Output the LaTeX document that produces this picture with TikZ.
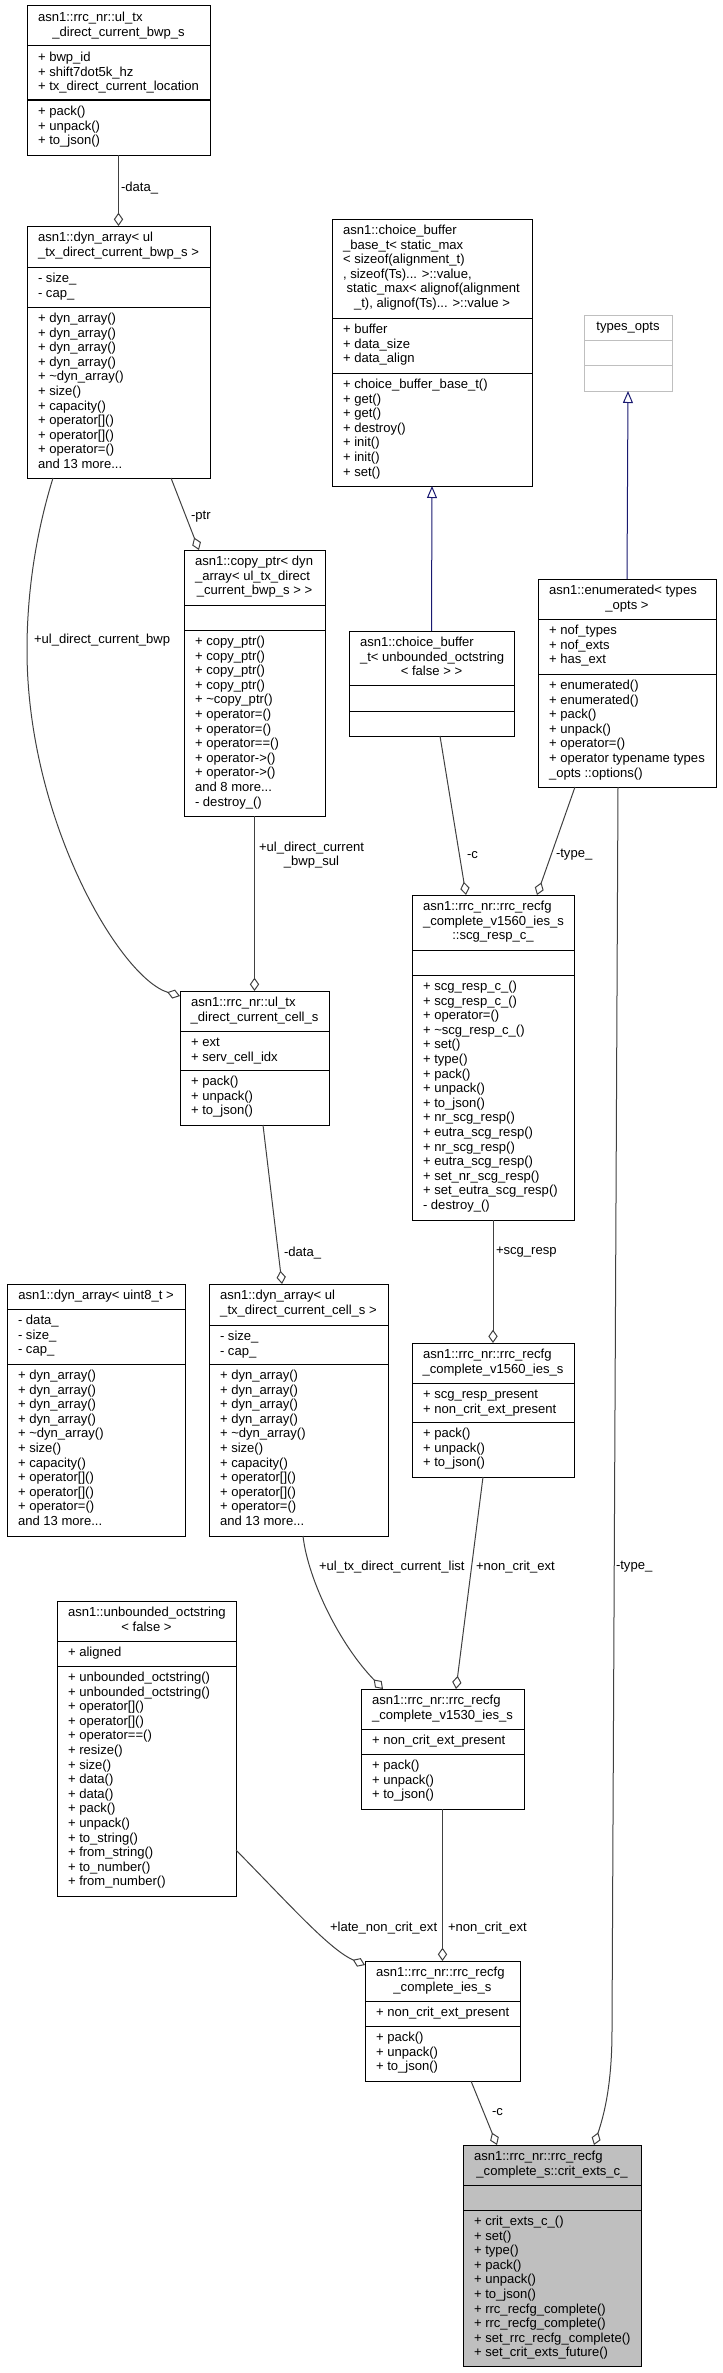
\documentclass[tikz,border=0pt]{standalone}
\usepackage{fontspec}
\setmainfont{Liberation Sans}
\usetikzlibrary{arrows.meta,calc}
\definecolor{edgegray}{HTML}{404040}
\definecolor{navy}{HTML}{191970}
\definecolor{boxgray}{HTML}{BFBFBF}
\newcommand{\clsL}[1]{\hbox{\rule{0pt}{8pt}#1}}
\newcommand{\clsC}[1]{\hbox to\hsize{\hss\rule{0pt}{8pt}#1\hss}}
\newcommand{\umlbox}[8]{%
  \node[cls,#8,minimum width={#4*0.75pt},minimum height={(#7-#3)*0.75pt},anchor=north west] (#1) at (#2,#3) {};
  \draw[sepl,#8] (#2,#5) -- ++(#4,0);
  \draw[sepl,#8] (#2,#6) -- ++(#4,0);
}
\newcommand{\umltxt}[5]{%
  \node[txt,anchor=north west] (#1) at ($(#2,#3)+(11,4.83)$) {\vbox{\lineskiplimit=-100pt\hsize=\dimexpr(#4pt-22pt)*3/4\relax #5}};
}
\begin{document}
\begin{tikzpicture}[x=0.75pt,y=-0.75pt,
  cls/.style={draw=black,line width=0.75pt,fill=white,inner sep=0pt,outer sep=0pt,rectangle},
  sepl/.style={draw=black,line width=0.75pt},
  gbox/.style={draw=boxgray},
  pbox/.style={fill=boxgray},
  txt/.style={inner sep=0pt,outer sep=0pt,font={\fontsize{9.8pt}{10.95pt}\selectfont}},
  lbl/.style={inner sep=0pt,outer sep=0pt,anchor=west,font={\fontsize{9.8pt}{10.95pt}\selectfont}},
  edge/.style={draw=edgegray,line width=0.75pt},
  aggr/.style={edge,-{Diamond[open,length=10pt,width=7pt]}},
  inh/.style={draw=navy,line width=0.75pt,-{Triangle[open,length=9pt,width=7.5pt]}}]
\useasboundingbox (0,0) rectangle (723,2373);

% A
\umlbox{A}{27}{6}{183}{46}{100}{155}{}
\umltxt{At}{27}{6}{183}{\clsL{asn1::rrc\_nr::ul\_tx}\clsC{\_direct\_current\_bwp\_s}}
\umltxt{Aa}{27}{46}{183}{\clsL{+ bwp\_id}\clsL{+ shift7dot5k\_hz}\clsL{+ tx\_direct\_current\_location}}
\umltxt{Am}{27}{100}{183}{\clsL{+ pack()}\clsL{+ unpack()}\clsL{+ to\_json()}}

% B
\umlbox{B}{27}{226}{183}{267}{307}{478}{}
\umltxt{Bt}{27}{226}{183}{\clsL{asn1::dyn\_array< ul}\clsC{\_tx\_direct\_current\_bwp\_s >}}
\umltxt{Ba}{27}{267}{183}{\clsL{- size\_}\clsL{- cap\_}}
\umltxt{Bm}{27}{307}{183}{\clsL{+ dyn\_array()}\clsL{+ dyn\_array()}\clsL{+ dyn\_array()}\clsL{+ dyn\_array()}\clsL{+ \textasciitilde dyn\_array()}\clsL{+ size()}\clsL{+ capacity()}\clsL{+ operator[]()}\clsL{+ operator[]()}\clsL{+ operator=()}\clsL{and 13 more...}}

% C
\umlbox{C}{184}{550}{141}{605}{630}{816}{}
\umltxt{Ct}{184}{550}{141}{\clsL{asn1::copy\_ptr< dyn}\clsL{\_array< ul\_tx\_direct}\clsC{\_current\_bwp\_s > >}}
\umltxt{Cm}{184}{630}{141}{\clsL{+ copy\_ptr()}\clsL{+ copy\_ptr()}\clsL{+ copy\_ptr()}\clsL{+ copy\_ptr()}\clsL{+ \textasciitilde copy\_ptr()}\clsL{+ operator=()}\clsL{+ operator=()}\clsL{+ operator==()}\clsL{+ operator->()}\clsL{+ operator->()}\clsL{and 8 more...}\clsL{- destroy\_()}}

% D
\umlbox{D}{180}{991}{149}{1031}{1070}{1125}{}
\umltxt{Dt}{180}{991}{149}{\clsL{asn1::rrc\_nr::ul\_tx}\clsC{\_direct\_current\_cell\_s}}
\umltxt{Da}{180}{1031}{149}{\clsL{+ ext}\clsL{+ serv\_cell\_idx}}
\umltxt{Dm}{180}{1070}{149}{\clsL{+ pack()}\clsL{+ unpack()}\clsL{+ to\_json()}}

% E
\umlbox{E}{332}{219}{200}{318}{373}{486}{}
\umltxt{Et}{332}{219}{200}{\clsL{asn1::choice\_buffer}\clsL{\_base\_t< static\_max}\clsL{< sizeof(alignment\_t)}\clsL{, sizeof(Ts)... >::value,}\clsL{\ static\_max< alignof(alignment}\clsC{\_t), alignof(Ts)... >::value >}}
\umltxt{Ea}{332}{318}{200}{\clsL{+ buffer}\clsL{+ data\_size}\clsL{+ data\_align}}
\umltxt{Em}{332}{373}{200}{\clsL{+ choice\_buffer\_base\_t()}\clsL{+ get()}\clsL{+ get()}\clsL{+ destroy()}\clsL{+ init()}\clsL{+ init()}\clsL{+ set()}}

% F
\umlbox{F}{584}{315}{88}{340}{365}{391}{gbox}
\umltxt{Ft}{584}{315}{88}{\clsC{types\_opts}}

% G
\umlbox{G}{349}{631}{165}{685}{711}{736}{}
\umltxt{Gt}{349}{631}{165}{\clsL{asn1::choice\_buffer}\clsL{\_t< unbounded\_octstring}\clsC{< false > >}}

% H
\umlbox{H}{538}{579}{178}{619}{674}{787}{}
\umltxt{Ht}{538}{579}{178}{\clsL{asn1::enumerated< types}\clsC{\_opts >}}
\umltxt{Ha}{538}{619}{178}{\clsL{+ nof\_types}\clsL{+ nof\_exts}\clsL{+ has\_ext}}
\umltxt{Hm}{538}{674}{178}{\clsL{+ enumerated()}\clsL{+ enumerated()}\clsL{+ pack()}\clsL{+ unpack()}\clsL{+ operator=()}\clsL{+ operator typename types}\clsL{\_opts ::options()}}

% I
\umlbox{I}{412}{895}{162}{950}{975}{1220}{}
\umltxt{It}{412}{895}{162}{\clsL{asn1::rrc\_nr::rrc\_recfg}\clsL{\_complete\_v1560\_ies\_s}\clsC{::scg\_resp\_c\_}}
\umltxt{Im}{412}{975}{162}{\clsL{+ scg\_resp\_c\_()}\clsL{+ scg\_resp\_c\_()}\clsL{+ operator=()}\clsL{+ \textasciitilde scg\_resp\_c\_()}\clsL{+ set()}\clsL{+ type()}\clsL{+ pack()}\clsL{+ unpack()}\clsL{+ to\_json()}\clsL{+ nr\_scg\_resp()}\clsL{+ eutra\_scg\_resp()}\clsL{+ nr\_scg\_resp()}\clsL{+ eutra\_scg\_resp()}\clsL{+ set\_nr\_scg\_resp()}\clsL{+ set\_eutra\_scg\_resp()}\clsL{- destroy\_()}}

% J
\umlbox{J}{412}{1343}{162}{1383}{1422}{1477}{}
\umltxt{Jt}{412}{1343}{162}{\clsL{asn1::rrc\_nr::rrc\_recfg}\clsC{\_complete\_v1560\_ies\_s}}
\umltxt{Ja}{412}{1383}{162}{\clsL{+ scg\_resp\_present}\clsL{+ non\_crit\_ext\_present}}
\umltxt{Jm}{412}{1422}{162}{\clsL{+ pack()}\clsL{+ unpack()}\clsL{+ to\_json()}}

% K
\umlbox{K}{7}{1284}{178}{1309}{1364}{1536}{}
\umltxt{Kt}{7}{1284}{178}{\clsC{asn1::dyn\_array< uint8\_t >}}
\umltxt{Ka}{7}{1309}{178}{\clsL{- data\_}\clsL{- size\_}\clsL{- cap\_}}
\umltxt{Km}{7}{1364}{178}{\clsL{+ dyn\_array()}\clsL{+ dyn\_array()}\clsL{+ dyn\_array()}\clsL{+ dyn\_array()}\clsL{+ \textasciitilde dyn\_array()}\clsL{+ size()}\clsL{+ capacity()}\clsL{+ operator[]()}\clsL{+ operator[]()}\clsL{+ operator=()}\clsL{and 13 more...}}

% L
\umlbox{L}{209}{1284}{179}{1325}{1364}{1536}{}
\umltxt{Lt}{209}{1284}{179}{\clsL{asn1::dyn\_array< ul}\clsC{\_tx\_direct\_current\_cell\_s >}}
\umltxt{La}{209}{1325}{179}{\clsL{- size\_}\clsL{- cap\_}}
\umltxt{Lm}{209}{1364}{179}{\clsL{+ dyn\_array()}\clsL{+ dyn\_array()}\clsL{+ dyn\_array()}\clsL{+ dyn\_array()}\clsL{+ \textasciitilde dyn\_array()}\clsL{+ size()}\clsL{+ capacity()}\clsL{+ operator[]()}\clsL{+ operator[]()}\clsL{+ operator=()}\clsL{and 13 more...}}

% M
\umlbox{M}{57}{1601}{179}{1641}{1666}{1896}{}
\umltxt{Mt}{57}{1601}{179}{\clsL{asn1::unbounded\_octstring}\clsC{< false >}}
\umltxt{Ma}{57}{1641}{179}{\clsL{+ aligned}}
\umltxt{Mm}{57}{1666}{179}{\clsL{+ unbounded\_octstring()}\clsL{+ unbounded\_octstring()}\clsL{+ operator[]()}\clsL{+ operator[]()}\clsL{+ operator==()}\clsL{+ resize()}\clsL{+ size()}\clsL{+ data()}\clsL{+ data()}\clsL{+ pack()}\clsL{+ unpack()}\clsL{+ to\_string()}\clsL{+ from\_string()}\clsL{+ to\_number()}\clsL{+ from\_number()}}

% N
\umlbox{N}{361}{1689}{163}{1729}{1754}{1809}{}
\umltxt{Nt}{361}{1689}{163}{\clsL{asn1::rrc\_nr::rrc\_recfg}\clsC{\_complete\_v1530\_ies\_s}}
\umltxt{Na}{361}{1729}{163}{\clsL{+ non\_crit\_ext\_present}}
\umltxt{Nm}{361}{1754}{163}{\clsL{+ pack()}\clsL{+ unpack()}\clsL{+ to\_json()}}

% O
\umlbox{O}{365}{1961}{155}{2001}{2026}{2081}{}
\umltxt{Ot}{365}{1961}{155}{\clsL{asn1::rrc\_nr::rrc\_recfg}\clsC{\_complete\_ies\_s}}
\umltxt{Oa}{365}{2001}{155}{\clsL{+ non\_crit\_ext\_present}}
\umltxt{Om}{365}{2026}{155}{\clsL{+ pack()}\clsL{+ unpack()}\clsL{+ to\_json()}}

% P
\umlbox{P}{463}{2145}{178}{2185}{2210}{2366}{pbox}
\umltxt{Pt}{463}{2145}{178}{\clsL{asn1::rrc\_nr::rrc\_recfg}\clsC{\_complete\_s::crit\_exts\_c\_}}
\umltxt{Pm}{463}{2210}{178}{\clsL{+ crit\_exts\_c\_()}\clsL{+ set()}\clsL{+ type()}\clsL{+ pack()}\clsL{+ unpack()}\clsL{+ to\_json()}\clsL{+ rrc\_recfg\_complete()}\clsL{+ rrc\_recfg\_complete()}\clsL{+ set\_rrc\_recfg\_complete()}\clsL{+ set\_crit\_exts\_future()}}

% edges
\draw[aggr] (A.south) -- (B.north);
\node[lbl] (l1) at (121,188) {-data\_};
\draw[aggr] ($(B.south west)+(144,0)$) -- ($(C.north west)+(15,0)$);
\node[lbl] (l2) at (191,517) {-ptr};
\draw[aggr] ($(B.south west)+(26,0)$) .. controls (40,520) and (27,580) .. (27,650) .. controls (27,820) and (120,978) .. ($(D.north west)+(0,5)$);
\node[lbl] (l3) at (34,640) {+ul\_direct\_current\_bwp};
\draw[aggr] (C.south) -- (D.north);
\node[lbl,align=center] (l4) at (259,855) {+ul\_direct\_current\\\_bwp\_sul};
\draw[aggr] ($(D.south west)+(83,0)$) -- ($(L.north west)+(73,0)$);
\node[lbl] (l5) at (284,1253) {-data\_};
\draw[inh] (G.north) -- (E.south);
\draw[inh] (H.north) -- (F.south);
\draw[aggr] ($(G.south west)+(91,0)$) -- ($(I.north west)+(54,0)$);
\node[lbl] (l6) at (467,855) {-c};
\draw[aggr] ($(H.south west)+(37,0)$) -- ($(I.north west)+(125,0)$);
\node[lbl] (l7) at (556,855) {-type\_};
\draw[aggr] ($(H.south west)+(80,0)$) -- (612,2030) .. controls (612,2085) and (604,2115) .. ($(P.north west)+(131,0)$);
\node[lbl] (l8) at (616,1567) {-type\_};
\draw[aggr] (I.south) -- (J.north);
\node[lbl] (l9) at (496,1252) {+scg\_resp};
\draw[aggr] ($(J.south west)+(71,0)$) -- ($(N.north west)+(95,0)$);
\node[lbl] (l10) at (476,1567) {+non\_crit\_ext};
\draw[aggr] ($(L.south west)+(94,0)$) .. controls (308,1580) and (340,1645) .. ($(N.north west)+(22,0)$);
\node[lbl] (l11) at (319,1567) {+ul\_tx\_direct\_current\_list};
\draw[aggr] (N.south) -- (O.north);
\node[lbl] (l12) at (448,1928) {+non\_crit\_ext};
\draw[aggr] ($(M.north east)+(0,249)$) .. controls (290,1905) and (330,1950) .. ($(O.north west)+(0,4)$);
\node[lbl] (l13) at (330,1928) {+late\_non\_crit\_ext};
\draw[aggr] ($(O.south west)+(106,0)$) -- ($(P.north west)+(34,0)$);
\node[lbl] (l14) at (492,2112) {-c};
\end{tikzpicture}
\end{document}
